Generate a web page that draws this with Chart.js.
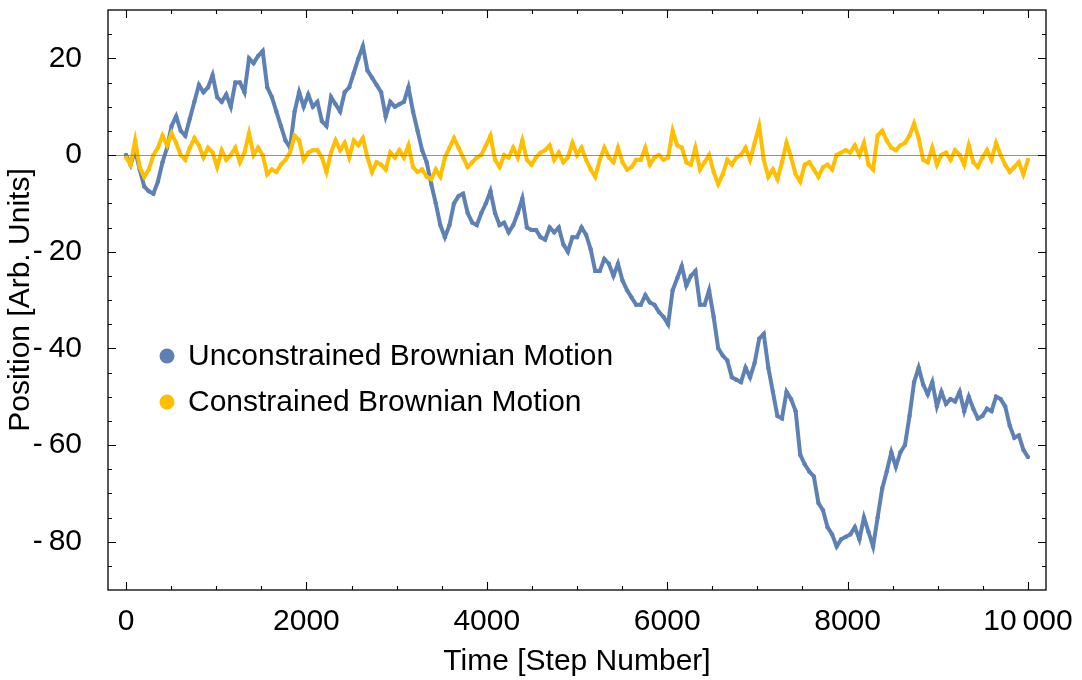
<!DOCTYPE html>
<html>
<head>
<meta charset="utf-8">
<script src="https://cdn.jsdelivr.net/npm/chart.js@4.4.1/dist/chart.umd.min.js"></script>
<style>
  html, body { margin: 0; padding: 0; background: #fff; }
  canvas { display: block; }
</style>
</head>
<body>
<canvas id="chart" width="1082" height="680"></canvas>
<script>
// positions, one value every ~50 steps
const unconstrained = [
  0, -2, 1, -3, -6.5, -7.5, -8, -5.5, -1.5, 1.5,
  6, 8, 5, 4, 7.5, 11, 14.5, 13, 14, 16.5,
  12, 11, 12.5, 10, 15, 15, 13, 20, 19, 20.5,
  21.5, 14, 12, 9, 6, 3, 1.5, 9, 13, 10,
  12.5, 10, 11, 7, 6, 12, 10.5, 9, 13, 14,
  17, 20, 22.5, 17.5, 16, 14.5, 13, 8, 11, 10,
  10.5, 11, 14, 9, 5, 1, -1.5, -6, -10, -14.5,
  -17, -14.5, -10, -8.5, -8, -12, -14, -14.5, -12, -10,
  -7.5, -12, -14.5, -14, -16, -14.5, -12, -9, -15, -15.5,
  -15.5, -17, -17.5, -15, -16, -15, -18.5, -20, -17, -17,
  -15, -16.5, -19.5, -24, -24, -21.5, -22.5, -25, -22.5, -26,
  -28, -29.5, -31, -31, -29, -30.5, -31, -32.5, -33.5, -35,
  -28, -25.5, -23, -27, -25, -24, -31, -31, -28, -33.5,
  -40, -41.5, -42.5, -46, -46.5, -47, -44, -46, -43, -38,
  -37, -44, -49, -54, -54.5, -49, -50.5, -53, -62, -64,
  -65.5, -66.5, -72, -73.5, -77, -78.5, -81, -79.5, -79, -78.5,
  -77, -79.5, -75, -78, -81, -75, -69, -65.5, -61.5, -64.5,
  -61.5, -60, -54, -47, -44, -47.5, -49.5, -47, -52, -49,
  -51.5, -50.5, -51, -49, -53, -50, -52.5, -54.5, -54, -52.5,
  -53, -50, -50.5, -52, -56, -58.5, -58, -61, -62.5
];

const constrained = [
  -0.5, -2, 3, -2.5, -4.5, -3, 0, 1.5, 4, 2,
  4.5, 2.5, 0, -1, 1.5, 3.5, 2, -0.5, 1.5, 0.5,
  -2.5, 1, -1, 0, 1.5, -1.5, 0.5, 4.5, 0, 1.5,
  0, -4, -3, -3.5, -2, -1, 0.5, 4, 3, -1,
  0.5, 1, 1, -0.5, -3.5, 0.5, 3, 1, 2.5, -0.5,
  3, 2, 3.5, -0.5, -3.5, -1.5, -2, -3, 0.5, -0.5,
  1, -0.5, 2, -2.5, -3.5, -3, -4.5, -5, -3, -4.5,
  -0.5, 1.5, 3.5, 1.5, -0.5, -2.5, -1.5, -0.5, 0, 2,
  4, -1, -2.5, 0, -0.5, 1.5, -0.5, 3, -1, -2,
  -0.5, 0.5, 1, 2, -1, 0.5, -1.5, -0.5, 2.5, 0,
  1.5, -1, -3, -4.5, -1, 1.5, -0.5, -1.5, 1.5, -1.5,
  -3, -2.5, -1, -1, 1.5, -2, -0.5, 0, -1, -0.5,
  5, 2, 1.5, -1.5, -2, 1.5, -3, -1.5, 0, -3.5,
  -6, -4, -1, -2, -0.5, 0, 1.5, -1, 2.5, 6,
  -1, -4.5, -3, -5, -1.5, 2.5, -0.5, -4, -5.5, -2,
  -1.5, -3, -4.5, -2.5, -2, -3, 0, 0.5, 1, 0.5,
  2, 0, 2.5, -2, -3, 4, 5, 3, 1.5, 1,
  2, 2.5, 4, 6.5, 3.5, -1, -1.5, 1.5, -2, 0,
  0.5, -1, 1, 0, -2, 2, -1.5, -2.5, -0.5, 1,
  -1, 2.5, 0, -2, -3.5, -2.5, -1.5, -4, -1
];

const totalSteps = 10000;
const xMajor = [0, 2000, 4000, 6000, 8000, 10000];
const yMajor = [-80, -60, -40, -20, 0, 20];
const seriesNames = ['Unconstrained Brownian Motion', 'Constrained Brownian Motion'];
const seriesColors = ['#5E81B5', '#FFBF00'];

const FONT = "'Liberation Sans', Arial, sans-serif";
const FS = 30;

function toPoints(arr) {
  const n = arr.length;
  return arr.map((v, i) => ({ x: i * totalSteps / (n - 1), y: v }));
}

// inward ticks on all four sides, frame, zero line, legend
const frame = {
  id: 'frame',
  afterDatasetsDraw(chart) {
    const { ctx, chartArea: a, scales: { x, y } } = chart;
    ctx.save();
    const y0 = Math.round(y.getPixelForValue(0)) + 0.5;
    ctx.strokeStyle = 'rgba(110,110,110,0.75)';
    ctx.lineWidth = 1.2;
    ctx.beginPath();
    ctx.moveTo(a.left, y0);
    ctx.lineTo(a.right, y0);
    ctx.stroke();

    ctx.strokeStyle = '#000';
    ctx.lineWidth = 1.3;
    ctx.strokeRect(a.left, a.top, a.width, a.height);
    ctx.lineWidth = 1.1;
    ctx.beginPath();
    for (let v = 0; v <= totalSteps; v += 500) {
      const len = v % 2000 === 0 ? 8 : 4;
      const px = Math.round(x.getPixelForValue(v)) + 0.5;
      ctx.moveTo(px, a.bottom); ctx.lineTo(px, a.bottom - len);
      ctx.moveTo(px, a.top); ctx.lineTo(px, a.top + len);
    }
    for (let v = -85; v <= 25; v += 5) {
      const len = v % 20 === 0 ? 8 : 4;
      const py = Math.round(y.getPixelForValue(v)) + 0.5;
      ctx.moveTo(a.left, py); ctx.lineTo(a.left + len, py);
      ctx.moveTo(a.right, py); ctx.lineTo(a.right - len, py);
    }
    ctx.stroke();
    ctx.restore();
  },
  afterDraw(chart) {
    const { ctx } = chart;
    ctx.save();
    ctx.font = FS + 'px ' + FONT;
    ctx.textBaseline = 'middle';
    seriesNames.forEach((name, i) => {
      const cy = 356 + i * 46;
      ctx.fillStyle = seriesColors[i];
      ctx.beginPath();
      ctx.arc(167, cy, 7.5, 0, Math.PI * 2);
      ctx.fill();
      ctx.fillStyle = '#000';
      ctx.fillText(name, 188, cy + 1);
    });
    ctx.restore();
  }
};

new Chart(document.getElementById('chart'), {
  type: 'scatter',
  data: {
    datasets: [
      {
        label: seriesNames[0],
        data: toPoints(unconstrained),
        showLine: true,
        borderColor: seriesColors[0],
        backgroundColor: seriesColors[0],
        borderWidth: 4,
        pointRadius: 2.2,
        pointBorderWidth: 0,
        order: 2
      },
      {
        label: seriesNames[1],
        data: toPoints(constrained),
        showLine: true,
        borderColor: seriesColors[1],
        backgroundColor: seriesColors[1],
        borderWidth: 4,
        pointRadius: 2.2,
        pointBorderWidth: 0,
        order: 1
      }
    ]
  },
  options: {
    responsive: false,
    animation: false,
    layout: { padding: { top: 10, right: 36, left: 0, bottom: 0 } },
    scales: {
      x: {
        type: 'linear',
        min: -200,
        max: 10200,
        grid: { display: false },
        border: { display: false },
        afterBuildTicks: s => { s.ticks = xMajor.map(v => ({ value: v })); },
        afterFit: s => { s.height = 90; s.paddingLeft = 0; s.paddingRight = 0; },
        ticks: {
          autoSkip: false,
          maxRotation: 0,
          padding: 6,
          color: '#000',
          font: { family: FONT, size: FS },
          callback: v => v === 10000 ? '10\u2009000' : String(v)
        },
        title: {
          display: true,
          text: 'Time [Step Number]',
          color: '#000',
          font: { family: FONT, size: FS },
          padding: { top: 0, bottom: 0 }
        }
      },
      y: {
        min: -90,
        max: 30,
        grid: { display: false },
        border: { display: false },
        afterBuildTicks: s => { s.ticks = yMajor.map(v => ({ value: v })); },
        afterFit: s => { s.width = 108; s.paddingTop = 0; s.paddingBottom = 0; },
        ticks: {
          padding: 18,
          color: '#000',
          font: { family: FONT, size: FS },
          callback: v => v < 0 ? '-\u2009' + (-v) : String(v)
        },
        title: {
          display: true,
          text: 'Position [Arb. Units]',
          color: '#000',
          font: { family: FONT, size: FS },
          padding: { top: 3, bottom: 0 }
        }
      }
    },
    plugins: {
      legend: { display: false },
      tooltip: { enabled: false }
    }
  },
  plugins: [frame]
});
</script>
</body>
</html>
